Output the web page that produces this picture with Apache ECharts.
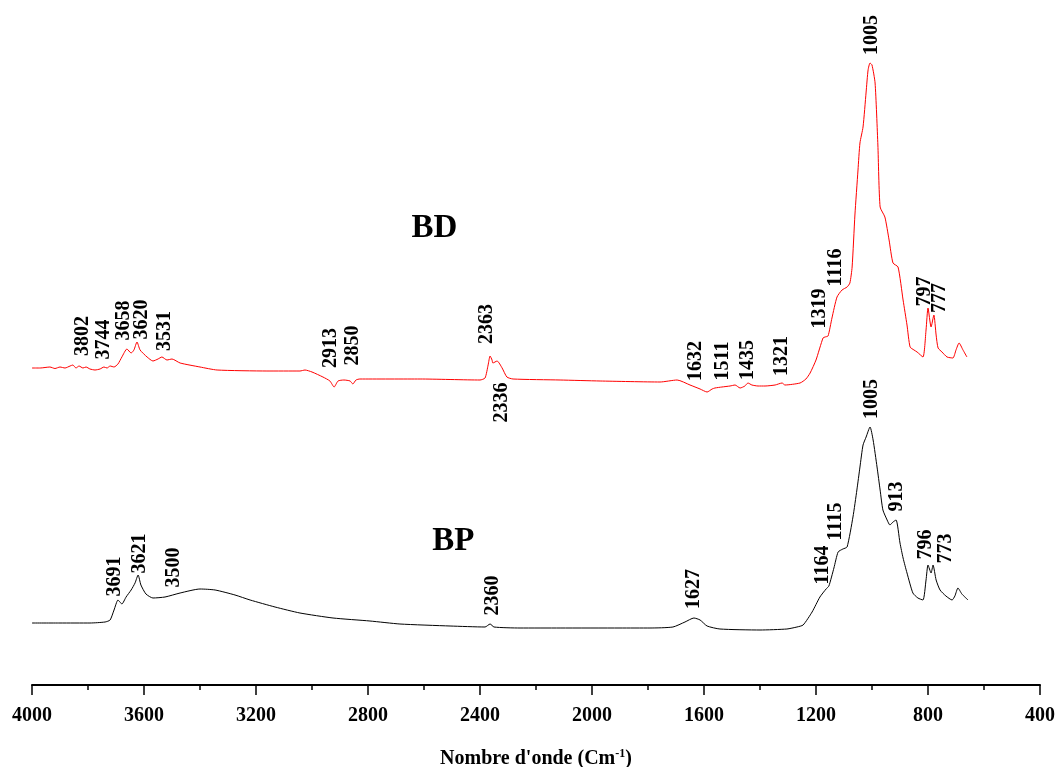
<!DOCTYPE html>
<html>
<head>
<meta charset="utf-8">
<script src="https://cdn.jsdelivr.net/npm/echarts@6/dist/echarts.min.js"></script>
<style>
  html, body { margin: 0; padding: 0; background: #fff; }
  #chart { width: 1057px; height: 767px; }
</style>
</head>
<body>
<div id="chart"></div>
<script>
// spectra as [wavenumber, offset absorbance]
const bdSpectrum = [
  [4000, 31.7], [3971, 31.7], [3936, 31.8], [3918, 31.65], [3900, 31.8], [3882, 31.7],
  [3864, 31.9], [3854, 32.0], [3843, 31.7], [3832, 31.9], [3818, 31.7], [3807, 31.8],
  [3793, 31.6], [3775, 31.5], [3757, 31.6], [3743, 31.8], [3732, 31.7], [3721, 31.9],
  [3707, 31.8], [3693, 32.1], [3679, 32.8], [3661, 33.6], [3646, 33.2], [3636, 33.5],
  [3625, 34.3], [3614, 33.5], [3589, 32.8], [3568, 32.4], [3550, 32.6], [3536, 32.8],
  [3518, 32.5], [3500, 32.6], [3471, 32.2], [3400, 31.8], [3339, 31.5], [3161, 31.4],
  [3043, 31.4], [3025, 31.5], [3000, 31.3], [2961, 30.8], [2936, 30.4], [2921, 29.8],
  [2907, 30.4], [2886, 30.5], [2864, 30.4], [2854, 30.1], [2843, 30.5], [2829, 30.6],
  [2614, 30.6], [2400, 30.5], [2382, 30.7], [2371, 32.0], [2364, 32.9], [2357, 32.5],
  [2354, 32.2], [2339, 32.4], [2321, 31.7], [2304, 30.8], [2282, 30.6], [2114, 30.5],
  [1971, 30.4], [1757, 30.3], [1696, 30.5], [1650, 30.0], [1614, 29.6], [1589, 29.3],
  [1571, 29.6], [1561, 29.7], [1536, 29.8], [1507, 29.9], [1489, 30.0], [1471, 29.7],
  [1454, 29.9], [1443, 30.2], [1429, 30.0], [1407, 29.9], [1382, 29.9], [1346, 30.0],
  [1321, 30.2], [1311, 30.0], [1257, 30.2], [1236, 30.6], [1221, 31.2], [1200, 32.5],
  [1175, 34.7], [1168, 34.8], [1157, 34.9], [1143, 36.7], [1125, 38.8], [1107, 39.5],
  [1089, 39.8], [1079, 40.2], [1071, 41.8], [1061, 47.0], [1050, 51.5], [1043, 54.2],
  [1032, 55.8], [1021, 59.3], [1014, 61.5], [1007, 62.2], [1000, 62.0], [989, 60.2],
  [979, 54.0], [971, 47.8], [954, 46.8], [939, 44.5], [925, 42.2], [907, 41.8],
  [889, 38.5], [875, 36.0], [864, 33.8], [850, 33.5], [839, 33.3], [818, 32.8],
  [807, 35.5], [800, 37.7], [789, 35.8], [779, 37.0], [771, 35.0], [764, 33.7],
  [750, 33.3], [732, 32.8], [711, 32.7], [700, 33.5], [689, 34.2], [675, 33.5], [661, 32.8]
];

const bpSpectrum = [
  [4000, 6.2], [3900, 6.2], [3793, 6.2], [3739, 6.3], [3721, 6.5], [3707, 7.5],
  [3693, 8.5], [3686, 8.3], [3679, 8.1], [3664, 8.8], [3646, 9.5], [3632, 10.2],
  [3621, 11.0], [3611, 10.0], [3593, 9.1], [3568, 8.7], [3525, 8.8], [3471, 9.2],
  [3400, 9.6], [3346, 9.5], [3275, 9.0], [3221, 8.5], [3132, 7.8], [3043, 7.2],
  [2925, 6.7], [2793, 6.4], [2686, 6.1], [2507, 5.9], [2382, 5.8], [2364, 6.1],
  [2350, 5.8], [2257, 5.7], [2114, 5.7], [1900, 5.7], [1793, 5.7], [1711, 5.8],
  [1668, 6.3], [1636, 6.7], [1614, 6.5], [1589, 5.9], [1543, 5.6], [1400, 5.5],
  [1304, 5.6], [1268, 5.8], [1246, 6.0], [1214, 7.3], [1186, 8.8], [1164, 9.6],
  [1154, 9.9], [1136, 11.7], [1121, 13.3], [1104, 13.6], [1089, 13.8], [1068, 16.8],
  [1054, 19.5], [1043, 21.8], [1032, 24.0], [1021, 24.8], [1007, 25.8], [996, 24.5],
  [982, 21.8], [971, 19.5], [961, 17.5], [946, 16.5], [936, 16.0], [925, 16.3],
  [914, 16.5], [900, 14.2], [889, 12.7], [875, 11.2], [854, 9.2], [836, 8.7],
  [818, 8.5], [807, 10.5], [800, 12.0], [789, 11.2], [782, 12.0], [771, 10.5],
  [757, 9.5], [736, 8.9], [714, 8.5], [704, 8.9], [693, 9.7], [679, 9.1], [657, 8.5]
];

// peak annotations: [x, y, text] (centre of the vertical label)
const bdPeaks = [
  [3818, 34.9, '3802'], [3743, 34.55, '3744'], [3671, 36.45, '3658'], [3607, 36.55, '3620'],
  [3525, 35.4, '3531'], [2932, 33.7, '2913'], [2854, 33.95, '2850'], [2375, 36.1, '2363'],
  [2321, 28.25, '2336'], [1629, 32.4, '1632'], [1532, 32.4, '1511'], [1443, 32.5, '1435'],
  [1321, 32.9, '1321'], [1186, 37.65, '1319'], [1129, 41.75, '1116'], [1000, 65.0, '1005'],
  [811, 39.35, '797'], [757, 38.7, '777']
];
const bpPeaks = [
  [3704, 10.85, '3691'], [3614, 13.15, '3621'], [3493, 11.75, '3500'], [2354, 8.95, '2360'],
  [1636, 9.6, '1627'], [1175, 12.0, '1164'], [1129, 16.35, '1115'], [1000, 28.6, '1005'],
  [911, 18.85, '913'], [807, 14.05, '796'], [736, 13.65, '773']
];
const sampleNames = [[2563, 45.7, 'BD'], [2495, 14.35, 'BP']];

const serif = '"Liberation Serif", "Times New Roman", serif';

const textSeries = (data, rotate, size) => ({
  type: 'scatter',
  silent: true,
  symbolSize: 0,
  itemStyle: { color: '#000', opacity: 1 },
  data: data.map(([x, y, t]) => ({ value: [x, y], name: t })),
  label: {
    show: true,
    position: 'inside',
    rotate: rotate,
    align: 'center',
    verticalAlign: 'middle',
    formatter: (p) => p.name,
    color: '#000',
    opacity: 1,
    textBorderWidth: 0,
    fontFamily: serif,
    fontWeight: 'bold',
    fontSize: size
  }
});

const chart = echarts.init(document.getElementById('chart'));
chart.setOption({
  animation: false,
  backgroundColor: '#fff',
  grid: { left: 32, right: 17, top: 25, bottom: 82, containLabel: false, outerBoundsMode: 'none' },
  xAxis: {
    type: 'value',
    inverse: true,
    min: 400,
    max: 4000,
    interval: 400,
    splitLine: { show: false },
    axisLine: { lineStyle: { color: '#000', width: 2 } },
    axisTick: { length: 10, lineStyle: { color: '#000', width: 1.5 } },
    minorTick: { show: true, splitNumber: 2, length: 5, lineStyle: { color: '#000', width: 1.5 } },
    axisLabel: {
      margin: 21, color: '#000', fontFamily: serif, fontWeight: 'bold', fontSize: 20,
      formatter: (v) => String(v)
    },
    name: 'Nombre d\'onde (Cm{sup|-1})',
    nameLocation: 'middle',
    nameGap: 63,
    nameTextStyle: {
      color: '#000', fontFamily: serif, fontWeight: 'bold', fontSize: 20,
      rich: {
        sup: { fontFamily: serif, fontWeight: 'bold', fontSize: 12, verticalAlign: 'top', padding: [0, 0, 10, 0] }
      }
    }
  },
  yAxis: { type: 'value', show: false, min: 0, max: 66 },
  series: [
    {
      name: 'BD', type: 'line', data: bdSpectrum, showSymbol: false, silent: true, smooth: 0.2,
      lineStyle: { color: '#ff0000', width: 1 }
    },
    {
      name: 'BP', type: 'line', data: bpSpectrum, showSymbol: false, silent: true, smooth: 0.2,
      lineStyle: { color: '#000', width: 1 }
    },
    textSeries(bdPeaks, 90, 20),
    textSeries(bpPeaks, 90, 20),
    textSeries(sampleNames, 0, 33)
  ]
});
</script>
</body>
</html>
